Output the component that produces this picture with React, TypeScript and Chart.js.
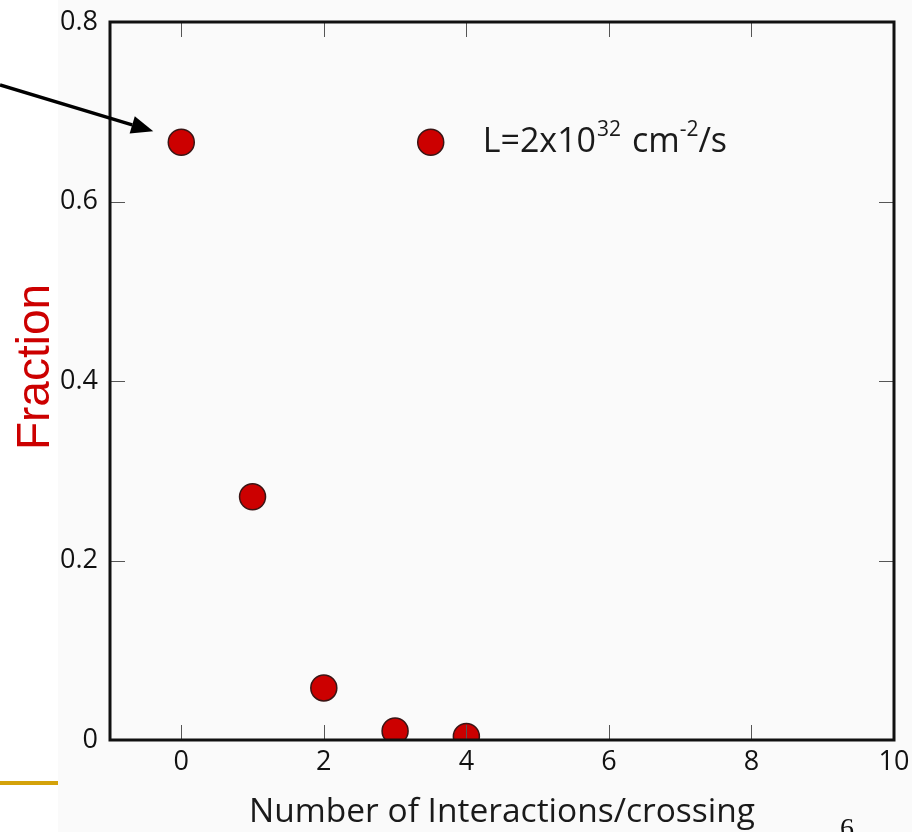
import React, { useEffect, useRef } from "react";
import { Chart, registerables } from "chart.js";

Chart.register(...registerables);

// ---- data ----
const interactions = [0, 1, 2, 3, 4];
const fractions = [0.666, 0.271, 0.058, 0.010, 0.004];
const legendX = [3.5];
const legendY = [0.666];
const xTickValues = [0, 2, 4, 6, 8, 10];
const yTickValues = [0, 0.2, 0.4, 0.6, 0.8];
const xTitle = "Number of Interactions/crossing";
const yTitle = "Fraction";
const legendMain = "L=2x10";
const legendSup1 = "32";
const legendMid = " cm";
const legendSup2 = "-2";
const legendEnd = "/s";
const pageNumber = "6";

const W = 922;
const H = 832;

const decorPlugin = {
  id: "decor",
  beforeDraw(chart: any) {
    const ctx = chart.ctx;
    ctx.save();
    ctx.fillStyle = "#ffffff";
    ctx.fillRect(0, 0, W, H);
    ctx.fillStyle = "#fafafa";
    ctx.fillRect(58, 0, 854, H);
    ctx.restore();
  },
  afterDatasetsDraw(chart: any) {
    const ctx = chart.ctx;
    const { left, right, top, bottom } = chart.chartArea;
    const xs = chart.scales.x;
    const ys = chart.scales.y;
    ctx.save();
    // inner tick marks
    ctx.strokeStyle = "#555";
    ctx.lineWidth = 1;
    const tl = 15;
    ctx.beginPath();
    xTickValues.forEach((v) => {
      const px = Math.round(xs.getPixelForValue(v)) + 0.5;
      ctx.moveTo(px, bottom);
      ctx.lineTo(px, bottom - tl);
      ctx.moveTo(px, top);
      ctx.lineTo(px, top + tl);
    });
    yTickValues.forEach((v) => {
      const py = Math.round(ys.getPixelForValue(v)) + 0.5;
      ctx.moveTo(left, py);
      ctx.lineTo(left + tl, py);
      ctx.moveTo(right, py);
      ctx.lineTo(right - tl, py);
    });
    ctx.stroke();
    // box
    ctx.strokeStyle = "#111";
    ctx.lineWidth = 3;
    ctx.strokeRect(left, top, right - left, bottom - top);

    // legend text next to the legend marker
    const lx = xs.getPixelForValue(legendX[0]);
    const ly = ys.getPixelForValue(legendY[0]);
    let tx = lx + 52;
    const base = ly + 10;
    ctx.fillStyle = "#1a1a1a";
    ctx.textBaseline = "alphabetic";
    ctx.textAlign = "left";
    const big = '34px "Open Sans"';
    const small = '21px "Open Sans"';
    ctx.font = big;
    ctx.fillText(legendMain, tx, base);
    tx += ctx.measureText(legendMain).width + 1;
    ctx.font = small;
    ctx.fillText(legendSup1, tx, base - 16);
    tx += ctx.measureText(legendSup1).width + 2;
    ctx.font = big;
    ctx.fillText(legendMid, tx, base);
    tx += ctx.measureText(legendMid).width;
    ctx.font = small;
    ctx.fillText(legendSup2, tx, base - 16);
    tx += ctx.measureText(legendSup2).width;
    ctx.font = big;
    ctx.fillText(legendEnd, tx, base);

    // y title
    ctx.save();
    ctx.translate(36, (top + bottom) / 2 - 14);
    ctx.rotate(-Math.PI / 2);
    ctx.fillStyle = "#cc0000";
    ctx.font = '46px "Liberation Sans", Arial, sans-serif';
    ctx.textAlign = "center";
    ctx.textBaseline = "middle";
    ctx.fillText(yTitle, 0, 0);
    ctx.restore();

    // arrow pointing at first data point
    const p0x = xs.getPixelForValue(interactions[0]);
    const p0y = ys.getPixelForValue(fractions[0]);
    const tipX = p0x - 28;
    const tipY = p0y - 11;
    const sx = 0;
    const sy = 85;
    const ang = Math.atan2(tipY - sy, tipX - sx);
    const headLen = 22;
    const headW = 9;
    const bx = tipX - headLen * Math.cos(ang);
    const by = tipY - headLen * Math.sin(ang);
    ctx.strokeStyle = "#000";
    ctx.lineWidth = 3.5;
    ctx.beginPath();
    ctx.moveTo(sx, sy);
    ctx.lineTo(bx, by);
    ctx.stroke();
    ctx.fillStyle = "#000";
    ctx.beginPath();
    ctx.moveTo(tipX, tipY);
    ctx.lineTo(bx + headW * Math.sin(ang), by - headW * Math.cos(ang));
    ctx.lineTo(bx - headW * Math.sin(ang), by + headW * Math.cos(ang));
    ctx.closePath();
    ctx.fill();

    // gold slide rule
    ctx.fillStyle = "#d4a20a";
    ctx.fillRect(0, 781, 58, 4);

    // page number
    ctx.fillStyle = "#111";
    ctx.font = '28px "Liberation Serif", serif';
    ctx.textAlign = "left";
    ctx.textBaseline = "alphabetic";
    ctx.fillText(pageNumber, 840, 837);
    ctx.restore();
  },
};

export default function App() {
  const ref = useRef<HTMLCanvasElement | null>(null);
  useEffect(() => {
    if (!ref.current) return;
    const markerStyle = {
      pointRadius: 13,
      pointHoverRadius: 13,
      backgroundColor: "#cc0000",
      borderColor: "#3a1515",
      borderWidth: 1.5,
      showLine: false,
      clip: 0,
    };
    const chart = new Chart(ref.current, {
      type: "scatter",
      data: {
        datasets: [
          {
            label: "data",
            data: interactions.map((x, i) => ({ x, y: fractions[i] })),
            ...markerStyle,
          },
          {
            label: "legend",
            data: legendX.map((x, i) => ({ x, y: legendY[i] })),
            ...markerStyle,
          },
        ],
      },
      options: {
        responsive: false,
        animation: false,
        events: [],
        layout: { padding: { top: 22, right: 28, left: 0, bottom: 0 } },
        plugins: {
          legend: { display: false },
          tooltip: { enabled: false },
        },
        scales: {
          x: {
            type: "linear",
            min: -1,
            max: 10,
            afterBuildTicks: (s: any) => {
              s.ticks = xTickValues.map((v) => ({ value: v }));
            },
            afterFit: (s: any) => {
              s.height = 92;
              s.paddingLeft = 0;
              s.paddingRight = 0;
            },
            grid: { display: false, drawTicks: false },
            border: { display: false },
            ticks: {
              autoSkip: false,
              maxRotation: 0,
              padding: 6,
              color: "#111",
              font: { family: '"Open Sans"', size: 27 },
              callback: (v: any) => String(v),
            },
            title: {
              display: true,
              text: xTitle,
              color: "#1a1a1a",
              font: { family: '"Open Sans"', size: 33.5, lineHeight: 1 },
              padding: { top: 0, bottom: 3 },
            },
          },
          y: {
            type: "linear",
            min: 0,
            max: 0.8,
            afterBuildTicks: (s: any) => {
              s.ticks = yTickValues.map((v) => ({ value: v }));
            },
            afterFit: (s: any) => {
              s.width = 110;
              s.paddingTop = 0;
              s.paddingBottom = 0;
            },
            grid: { display: false, drawTicks: false },
            border: { display: false },
            ticks: {
              autoSkip: false,
              padding: 12,
              color: "#111",
              font: { family: '"Open Sans"', size: 27 },
              callback: (v: any) => String(v),
            },
          },
        },
      },
      plugins: [decorPlugin],
    } as any);
    return () => chart.destroy();
  }, []);
  return (
    <div style={{ position: "fixed", left: 0, top: 0, width: W, height: H }}>
      <canvas ref={ref} width={W} height={H} style={{ display: "block" }} />
    </div>
  );
}
